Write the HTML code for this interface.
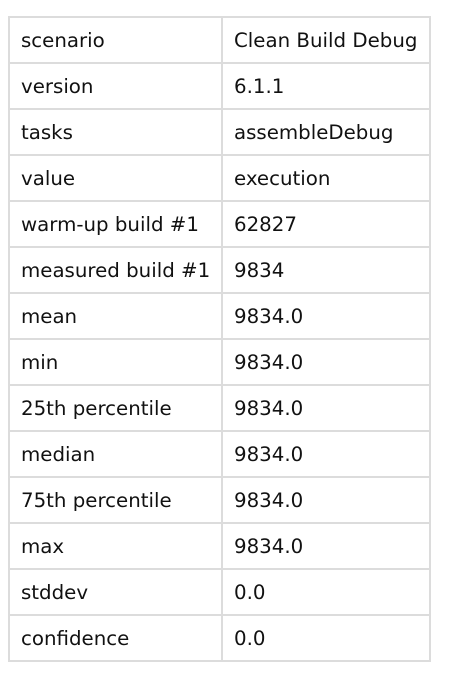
<!DOCTYPE html>
<html><head><style>
html,body{margin:0;padding:0;background:#fff;width:462px;height:682px;overflow:hidden}
table{position:absolute;left:8px;top:16px;border-collapse:collapse;font-family:"DejaVu Sans",Verdana,sans-serif;font-size:19.8px;color:#111}
td{border:2px solid #dcdcdc;height:42px;padding:0 0 0 11px;box-sizing:border-box;vertical-align:middle;white-space:nowrap}
td:first-child{width:213px}
td:last-child{width:208px}
tr{height:46px}
</style></head><body>
<table>
<tr><td>scenario</td><td>Clean Build Debug</td></tr>
<tr><td>version</td><td>6.1.1</td></tr>
<tr><td>tasks</td><td>assembleDebug</td></tr>
<tr><td>value</td><td>execution</td></tr>
<tr><td>warm-up build #1</td><td>62827</td></tr>
<tr><td>measured build #1</td><td>9834</td></tr>
<tr><td>mean</td><td>9834.0</td></tr>
<tr><td>min</td><td>9834.0</td></tr>
<tr><td>25th percentile</td><td>9834.0</td></tr>
<tr><td>median</td><td>9834.0</td></tr>
<tr><td>75th percentile</td><td>9834.0</td></tr>
<tr><td>max</td><td>9834.0</td></tr>
<tr><td>stddev</td><td>0.0</td></tr>
<tr><td>confidence</td><td>0.0</td></tr>
</table>
</body></html>
